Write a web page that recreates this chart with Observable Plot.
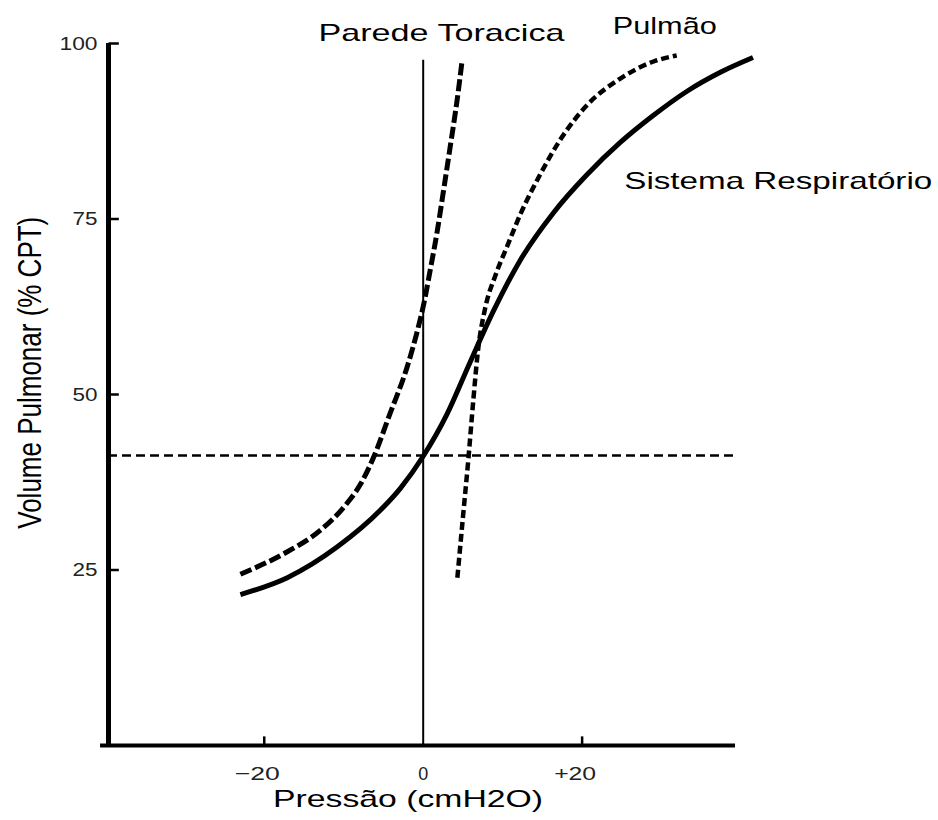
<!DOCTYPE html>
<html>
<head>
<meta charset="utf-8">
<script src="https://cdn.jsdelivr.net/npm/d3@7"></script>
<script src="https://cdn.jsdelivr.net/npm/@observablehq/plot@0.6"></script>
<style>
  body { margin: 0; background: #fff; }
  svg { font-family: "Liberation Sans", Arial, sans-serif; }
</style>
</head>
<body>
<div id="chart"></div>
<script>
// Sistema Respiratório (solid)
const sistemaX = [-23.0, -17.1, -10.8, -5.4, -2.9, 0, 3.0, 5.9, 8.8, 12.2, 16.4, 20.6, 24.8, 28.9, 33.2, 37.4, 41.5];
const sistemaY = [21.5, 23.9, 28.3, 33.5, 36.6, 41.2, 47.2, 54.6, 61.8, 69.1, 75.9, 81.3, 85.9, 89.7, 93.2, 95.9, 98.0];
// Parede Torácica (long dashes)
const paredeX = [-23.0, -17.1, -13.0, -9.8, -7.9, -6.3, -4.2, -2.0, -0.75, 0.13, 0.88, 1.76, 2.5, 3.4, 4.3, 4.9];
const paredeY = [24.4, 27.6, 30.6, 34.2, 37.2, 40.9, 47.2, 54.0, 59.0, 63.2, 67.7, 73.2, 78.6, 85.3, 92.2, 97.6];
// Pulmão (short dashes)
const pulmaoX = [4.3, 5.0, 5.7, 6.3, 6.9, 7.8, 9.1, 10.6, 12.2, 14.7, 17.2, 20.6, 24.8, 28.9, 31.9];
const pulmaoY = [23.9, 32.5, 41.0, 49.1, 56.3, 62.3, 67.0, 71.2, 75.6, 81.3, 86.2, 91.2, 95.0, 97.4, 98.3];

const yTicks = [25, 50, 75, 100];
const xTicks = [-20, 0, 20];
const xTickLabels = ["\u221220", "0", "+20"];
const restingVolume = 41.3;
const xDomain = [-39.6, 39.3];
const yDomain = [0, 100];

const labelTexts = ["Parede Toracica", "Pulmão", "Sistema Respiratório"];
const labelX = [2.3, 30.4, 25.3];
const labelY = [101.4, 102.4, 80.4];
const xTitle = "Pressão (cmH2O)";
const yTitle = "Volume Pulmonar (% CPT)";

const toPts = (xs, ys) => xs.map((x, i) => ({x, y: ys[i]}));
const sistema = toPts(sistemaX, sistemaY);
const parede = toPts(paredeX, paredeY);
const pulmao = toPts(pulmaoX, pulmaoY);
const labels = labelTexts.map((text, i) => ({text, x: labelX[i], y: labelY[i]}));
const xTickData = xTicks.map((x, i) => ({x, label: xTickLabels[i]}));

const chart = Plot.plot({
  width: 938,
  height: 820,
  marginLeft: 108,
  marginRight: 203,
  marginTop: 43,
  marginBottom: 75,
  style: {fontFamily: "'Liberation Sans', Arial, sans-serif", background: "#fff"},
  x: {domain: xDomain, axis: null},
  y: {domain: yDomain, axis: null},
  marks: [
    // axis lines
    Plot.ruleX([xDomain[0]], {y1: 0, y2: 100, stroke: "#000", strokeWidth: 5}),
    Plot.ruleY([0], {x1: xDomain[0] - 1, x2: xDomain[1], stroke: "#000", strokeWidth: 4}),
    // y ticks (inside)
    Plot.link(yTicks, {x1: xDomain[0], x2: xDomain[0] + 1.3, y1: d => d, y2: d => d, stroke: "#000", strokeWidth: 2.5}),
    Plot.text(yTicks, {x: xDomain[0], y: d => d, text: d => String(d), textAnchor: "end", dx: -11, fontSize: 19, fill: "#222"}),
    // x ticks
    Plot.link(xTicks.filter(d => d !== 0), {x1: d => d, x2: d => d, y1: 0, y2: 1.3, stroke: "#000", strokeWidth: 2.5}),
    Plot.text(xTickData.filter(d => d.x !== 0), {x: "x", y: 0, text: "label", dx: -7, dy: 28, fontSize: 19, fill: "#222"}),
    Plot.text(xTickData.filter(d => d.x === 0), {x: "x", y: 0, text: "label", dy: 28, fontSize: 19, fill: "#222"}),
    // reference lines
    Plot.ruleX([0], {y1: 0, y2: 97.6, stroke: "#000", strokeWidth: 2}),
    Plot.ruleY([restingVolume], {x1: xDomain[0], x2: 39.6, stroke: "#000", strokeWidth: 2.5, strokeDasharray: "9,5"}),
    // curves
    Plot.line(sistema, {x: "x", y: "y", curve: "monotone-x", stroke: "#000", strokeWidth: 5, strokeLinecap: "butt"}),
    Plot.line(parede, {x: "x", y: "y", curve: "monotone-x", stroke: "#000", strokeWidth: 5, strokeDasharray: "12,4", strokeLinecap: "butt"}),
    Plot.line(pulmao, {x: "x", y: "y", curve: "monotone-x", stroke: "#000", strokeWidth: 4.5, strokeDasharray: "8,4", strokeLinecap: "butt"}),
    // annotations
    Plot.text(labels.slice(0, 2), {x: "x", y: "y", text: "text", textAnchor: "middle", fontSize: 24, fill: "#000"}),
    Plot.text(labels.slice(2), {x: "x", y: "y", text: "text", textAnchor: "start", fontSize: 24, fill: "#000"}),
    // axis titles
    Plot.text([yTitle], {x: xDomain[0], y: 53.1, dx: -78, rotate: -90, textAnchor: "middle", fontSize: 26, fill: "#000"}),
    Plot.text([xTitle], {x: -1.9, y: 0, dy: 54, textAnchor: "middle", fontSize: 24, fill: "#000"})
  ]
});
document.getElementById("chart").appendChild(chart);

// horizontal stretch of the texts (the reference lettering is wide)
const textWidths = {
  "Parede Toracica": 246, "Pulmão": 104, "Sistema Respiratório": 308, "Pressão (cmH2O)": 270,
  "100": 38, "75": 25, "50": 25, "25": 25, "\u221220": 45, "0": 10, "+20": 42
};
d3.select(chart).selectAll("text").each(function() {
  const t = this.textContent;
  if (textWidths[t]) {
    this.setAttribute("textLength", textWidths[t]);
    this.setAttribute("lengthAdjust", "spacingAndGlyphs");
  }
  if (t === yTitle) {
    const tr = this.getAttribute("transform") || "";
    this.setAttribute("transform", tr.replace("rotate(", "scale(1.25,1) rotate("));
  }
});
</script>
</body>
</html>
